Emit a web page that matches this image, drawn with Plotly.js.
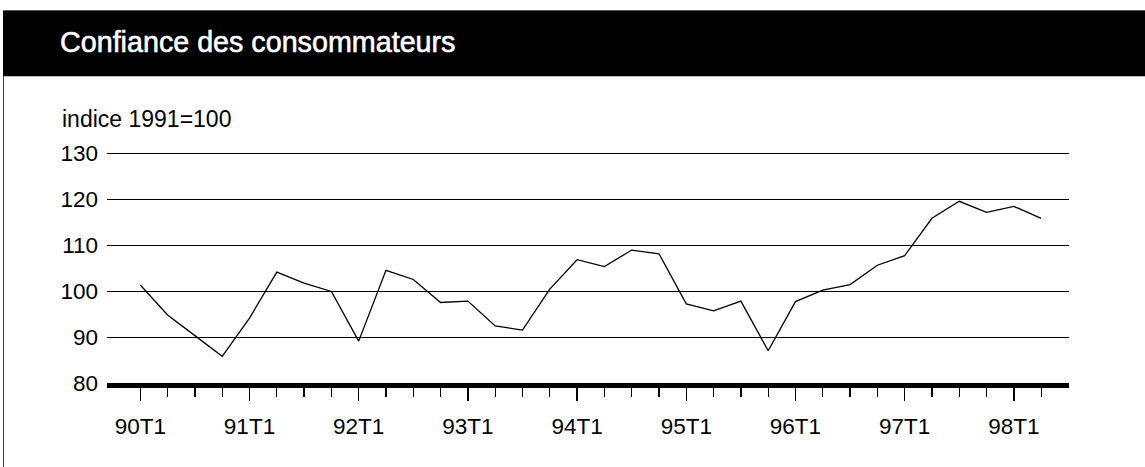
<!DOCTYPE html>
<html>
<head>
<meta charset="utf-8">
<script src="https://cdn.plot.ly/plotly-3.0.1.min.js"></script>
<style>
  html, body { margin: 0; padding: 0; background: #ffffff; }
  #wrap { position: relative; width: 1145px; height: 467px; overflow: hidden; }
  #band { position: absolute; left: 3px; top: 10px; width: 1142px; height: 65px;
          background: #000; border-top: 1px solid #555; border-bottom: 1px solid #bbb; }
  #frame { position: absolute; left: 3px; top: 76px; width: 0; height: 391px; border-left: 1px solid #444; }
  #chart { position: absolute; left: 0; top: 0; width: 1145px; height: 467px; }
</style>
</head>
<body>
<div id="wrap">
  <div id="band"></div>
  <div id="frame"></div>
  <div id="chart"></div>
</div>
<script>
const quarters = [
  '90T1','90T2','90T3','90T4',
  '91T1','91T2','91T3','91T4',
  '92T1','92T2','92T3','92T4',
  '93T1','93T2','93T3','93T4',
  '94T1','94T2','94T3','94T4',
  '95T1','95T2','95T3','95T4',
  '96T1','96T2','96T3','96T4',
  '97T1','97T2','97T3','97T4',
  '98T1','98T2'
];
const confidence = [
  101.3, 94.8, 90.3, 85.8,
  94.1, 104.1, 101.7, 99.9,
  89.1, 104.5, 102.5, 97.5,
  97.8, 92.4, 91.5, 100.4,
  106.8, 105.3, 108.9, 108.1,
  97.2, 95.7, 97.8, 87.0,
  97.7, 100.2, 101.4, 105.6,
  107.7, 115.8, 119.5, 117.1,
  118.4, 115.8
];
const yTicks = [80, 90, 100, 110, 120, 130];
const titleText = 'Confiance des consommateurs';
const unitText = 'indice 1991=100';

const xIndex = quarters.map((q, i) => i);
const majorVals = xIndex.filter(i => quarters[i].endsWith('T1'));
const majorText = majorVals.map(i => quarters[i]);
const minorVals = xIndex.filter(i => !quarters[i].endsWith('T1'));

const FONT = '"Liberation Sans", Arial, Helvetica, sans-serif';

const trace = {
  x: xIndex,
  y: confidence,
  customdata: quarters,
  type: 'scatter',
  mode: 'lines',
  line: { color: '#000', width: 1.3 },
  hovertemplate: '%{customdata}: %{y}<extra></extra>'
};

const layout = {
  width: 1145,
  height: 467,
  margin: { l: 107, r: 76, t: 151, b: 84 },
  paper_bgcolor: 'rgba(0,0,0,0)',
  plot_bgcolor: 'rgba(0,0,0,0)',
  showlegend: false,
  font: { family: FONT, color: '#000', size: 22.5 },
  title: {
    text: titleText,
    font: { family: FONT, size: 28.7, color: '#fff' },
    x: 60 / 1145, xref: 'container', xanchor: 'left',
    y: 1 - 42 / 467, yref: 'container', yanchor: 'middle'
  },
  xaxis: {
    type: 'linear',
    range: [-1.22, 34.02],
    tickmode: 'array',
    tickvals: majorVals,
    ticktext: majorText,
    ticks: 'outside',
    ticklen: 13,
    tickwidth: 1.3,
    tickcolor: '#000',
    minor: { tickmode: 'array', tickvals: minorVals, ticks: 'outside', ticklen: 9, tickwidth: 1.3, tickcolor: '#000', showgrid: false },
    showline: true,
    linewidth: 4.5,
    linecolor: '#000',
    showgrid: false,
    zeroline: false,
    tickfont: { family: FONT, size: 22.5, color: '#000' },
    ticklabelstandoff: 6,
    fixedrange: true
  },
  yaxis: {
    range: [80, 130.4348],
    tickmode: 'array',
    tickvals: yTicks,
    ticktext: yTicks.map(String),
    ticks: '',
    showgrid: true,
    gridcolor: '#000',
    gridwidth: 1,
    showline: false,
    zeroline: false,
    tickfont: { family: FONT, size: 22.5, color: '#000' },
    ticklabelstandoff: 8,
    fixedrange: true
  },
  annotations: [{
    text: unitText,
    xref: 'paper', yref: 'paper',
    x: (60 - 107) / 962, xanchor: 'left',
    y: (383 - 119) / 232, yanchor: 'middle',
    showarrow: false,
    font: { family: FONT, size: 23, color: '#000' }
  }]
};

Plotly.newPlot('chart', [trace], layout, { displayModeBar: false, staticPlot: true }).then(function (gd) {
  const t = gd.querySelector('.gtitle');
  if (t) { t.style.stroke = '#fff'; t.style.strokeWidth = '0.6px'; }
});
</script>
</body>
</html>
